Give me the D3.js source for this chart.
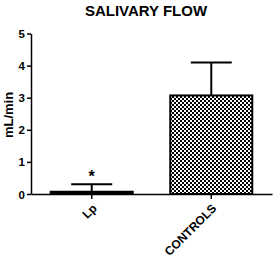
<!DOCTYPE html>
<html>
<head>
<meta charset="utf-8">
<script src="https://cdn.jsdelivr.net/npm/d3@7"></script>
<style>
  body { margin: 0; background: #fff; }
  text { font-family: "Liberation Sans", Arial, sans-serif; font-weight: bold; fill: #000; }
</style>
</head>
<body>
<div id="chart"></div>
<script>
// Data
var categories = ["Lp", "CONTROLS"];
var means = [0.07, 3.07];
var errors = [0.23, 1.03];   // upper SD
var yTicks = [0, 1, 2, 3, 4, 5];
var signif = ["*", ""];

var w = 273, h = 259;

var svg = d3.select("#chart").append("svg")
	.attr("width", w)
	.attr("height", h);

// checkered fill
var pat = svg.append("defs").append("pattern")
	.attr("id", "checks")
	.attr("patternUnits", "userSpaceOnUse")
	.attr("width", 4)
	.attr("height", 4);
pat.append("rect").attr("width", 4).attr("height", 4).attr("fill", "#fff");
pat.append("rect").attr("width", 2).attr("height", 2).attr("fill", "#000");
pat.append("rect").attr("x", 2).attr("y", 2).attr("width", 2).attr("height", 2).attr("fill", "#000");

var xScale = d3.scaleBand()
	.domain(categories)
	.range([31, 272])
	.paddingInner(0.314)
	.paddingOuter(0.165);

var yScale = d3.scaleLinear()
	.domain([0, 5])
	.range([194, 33.5]);

// Title
svg.append("text")
	.attr("x", 146)
	.attr("y", 16)
	.attr("text-anchor", "middle")
	.attr("font-size", 15)
	.text("SALIVARY FLOW");

// Y label
svg.append("text")
	.attr("transform", "translate(13,115) rotate(-90)")
	.attr("text-anchor", "middle")
	.attr("font-size", 13)
	.text("mL/min");

// Bars
svg.selectAll(".bar")
	.data(means)
	.enter()
	.append("rect")
	.attr("class", "bar")
	.attr("x", function(d, i) { return xScale(categories[i]); })
	.attr("y", function(d) { return yScale(d); })
	.attr("width", xScale.bandwidth())
	.attr("height", function(d) { return yScale(0) - yScale(d); })
	.attr("fill", function(d, i) { return i == 0 ? "#000" : "url(#checks)"; })
	.attr("stroke", "#000")
	.attr("stroke-width", 2);

// Error bars
var eb = svg.selectAll(".err")
	.data(means)
	.enter()
	.append("g")
	.attr("class", "err")
	.attr("transform", function(d, i) {
		return "translate(" + (xScale(categories[i]) + xScale.bandwidth()/2) + ",0)";
	});

eb.append("line")
	.attr("x1", 0).attr("x2", 0)
	.attr("y1", function(d) { return yScale(d); })
	.attr("y2", function(d, i) { return yScale(d + errors[i]); })
	.attr("stroke", "#000")
	.attr("stroke-width", 2);

eb.append("line")
	.attr("x1", -xScale.bandwidth()/4)
	.attr("x2", xScale.bandwidth()/4)
	.attr("y1", function(d, i) { return yScale(d + errors[i]); })
	.attr("y2", function(d, i) { return yScale(d + errors[i]); })
	.attr("stroke", "#000")
	.attr("stroke-width", 2);

eb.append("text")
	.attr("y", function(d, i) { return yScale(d + errors[i]) - 2; })
	.attr("text-anchor", "middle")
	.attr("font-size", 16)
	.text(function(d, i) { return signif[i]; });

// Axes
var yAxis = d3.axisLeft(yScale)
	.tickValues(yTicks)
	.tickFormat(d3.format("d"))
	.tickSizeInner(4)
	.tickSizeOuter(0)
	.tickPadding(2);

var gy = svg.append("g")
	.attr("transform", "translate(31,0)")
	.call(yAxis);
gy.select(".domain").attr("stroke-width", 1.5);
gy.selectAll(".tick line").attr("stroke-width", 1.5);
gy.selectAll(".tick text")
	.attr("font-size", 11.5)
	.attr("font-family", null)
	.attr("dy", "0.35em");

var xAxis = d3.axisBottom(xScale)
	.tickSizeInner(5)
	.tickSizeOuter(0)
	.tickFormat("");

var gx = svg.append("g")
	.attr("transform", "translate(0,194)")
	.call(xAxis);
gx.select(".domain").attr("stroke-width", 1.5);
gx.selectAll(".tick line").attr("stroke-width", 1.5);

// category labels, rotated 45 degrees
svg.selectAll(".cat")
	.data(categories)
	.enter()
	.append("g")
	.attr("class", "cat")
	.attr("transform", function(d) {
		var cx = xScale(d) + xScale.bandwidth()/2;
		return "translate(" + (cx + 3) + ",206)";
	})
	.append("text")
	.attr("text-anchor", "end")
	.attr("font-size", 12)
	.attr("dy", "0.35em")
	.attr("transform", "rotate(-45)")
	.text(function(d) { return d; });
</script>
</body>
</html>
